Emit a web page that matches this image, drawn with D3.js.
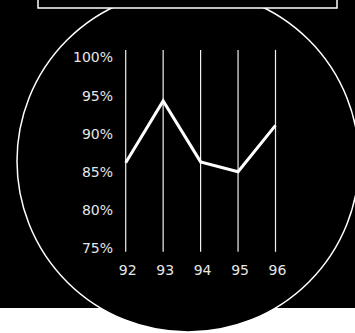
<!DOCTYPE html>
<html>
<head>
<meta charset="utf-8">
<script src="https://cdn.jsdelivr.net/npm/d3@7"></script>
<style>
  html, body { margin: 0; padding: 0; background: #fff; }
  svg { display: block; }
  text { font-family: "DejaVu Sans", sans-serif; }
</style>
</head>
<body>
<svg id="chart" width="355" height="333"></svg>
<script>
// years on the x axis
var years = ["92", "93", "94", "95", "96"];
// percentage values per year
var values = [86.2, 94.3, 86.3, 85.0, 91.1];
// y tick labels
var yTicks = [75, 80, 85, 90, 95, 100];

var svg = d3.select('#chart');

// black backdrop
svg.append('rect')
    .attr('x', 0).attr('y', 0)
    .attr('width', 355).attr('height', 308)
    .attr('fill', '#000');

// big round frame
svg.append('circle')
    .attr('cx', 188).attr('cy', 161).attr('r', 171)
    .attr('fill', '#000')
    .attr('stroke', '#fff')
    .attr('stroke-width', 1.5);

// the box at the top, sits over the circle
svg.append('rect')
    .attr('x', 38).attr('y', -20)
    .attr('width', 299).attr('height', 28)
    .attr('fill', '#000')
    .attr('stroke', '#fff')
    .attr('stroke-width', 1.5);

var xscale = d3.scalePoint()
    .domain(years)
    .range([125.7, 275.5]);

var yscale = d3.scaleLinear()
    .domain([75, 100])
    .range([248, 57.5]);

var yaxis = d3.axisLeft(yscale)
    .tickValues(yTicks)
    .tickFormat(function(d) { return d + '%'; })
    .tickSize(0)
    .tickPadding(0);

var ya = svg.append('g')
    .attr('transform', 'translate(113,0)')
    .call(yaxis);
ya.select('.domain').remove();
ya.selectAll('text')
    .attr('fill', '#e6e6e6')
    .style('font-size', '14px');

// vertical lines per year
svg.append('g')
    .selectAll('line')
    .data(years)
    .enter()
    .append('line')
    .attr('x1', function(d) { return xscale(d); })
    .attr('x2', function(d) { return xscale(d); })
    .attr('y1', yscale(101))
    .attr('y2', yscale(74.5))
    .attr('stroke', '#f0f0f0')
    .attr('stroke-width', 1.2);

var xaxis = d3.axisBottom(xscale)
    .tickSize(0)
    .tickPadding(0);

var xa = svg.append('g')
    .attr('transform', 'translate(1.5,265)')
    .call(xaxis);
xa.select('.domain').remove();
xa.selectAll('text')
    .attr('fill', '#e6e6e6')
    .style('font-size', '14px');

var line = d3.line()
    .x(function(d, i) { return xscale(years[i]); })
    .y(function(d) { return yscale(d); });

svg.append('path')
    .datum(values)
    .attr('d', line)
    .attr('fill', 'none')
    .attr('stroke', '#fff')
    .attr('stroke-width', 3)
    .attr('stroke-linejoin', 'miter');
</script>
</body>
</html>
